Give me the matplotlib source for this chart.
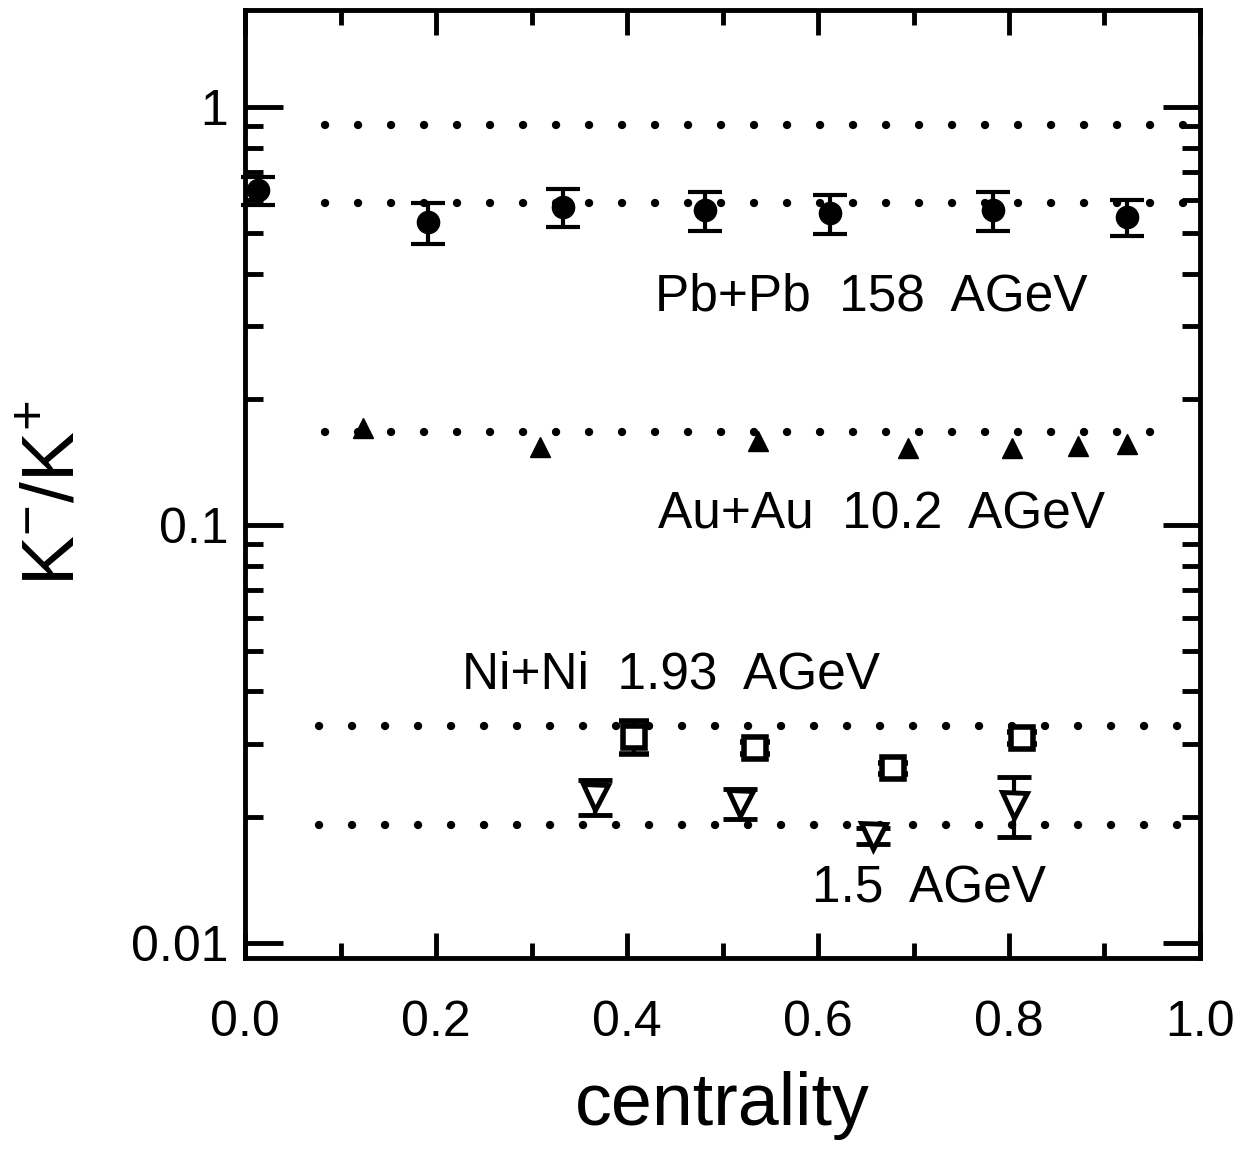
import matplotlib
matplotlib.use('Agg')
import matplotlib.pyplot as plt
from matplotlib.ticker import MultipleLocator, LogLocator, FixedLocator, NullFormatter

plt.rcParams['font.family'] = ['Liberation Sans', 'DejaVu Sans']
plt.rcParams['mathtext.fontset'] = 'custom'
plt.rcParams['mathtext.rm'] = 'Liberation Sans'

# Pb+Pb 158 AGeV (filled circles)
pb_x = [0.014, 0.192, 0.333, 0.482, 0.613, 0.783, 0.924]
pb_y = [0.633, 0.531, 0.576, 0.567, 0.558, 0.567, 0.546]
pb_err = [0.05, 0.06, 0.06, 0.06, 0.06, 0.06, 0.055]

# Au+Au 10.2 AGeV (filled triangles)
au_x = [0.124, 0.309, 0.537, 0.694, 0.803, 0.872, 0.924]
au_y = [0.171, 0.154, 0.159, 0.153, 0.153, 0.155, 0.156]

# Ni+Ni 1.93 AGeV (open squares)
ni193_x = [0.407, 0.534, 0.679, 0.814]
ni193_y = [0.0311, 0.0293, 0.0262, 0.0309]
ni193_err = [0.0028, 0.0010, 0.0008, 0.0010]

# Ni+Ni 1.5 AGeV (open down triangles)
ni15_x = [0.366, 0.518, 0.658, 0.805]
ni15_y = [0.0224, 0.0216, 0.0180, 0.0214]
ni15_err = [0.0022, 0.0018, 0.0008, 0.0035]

# dotted reference levels: (level, x start, x end)
ref_levels = [0.906, 0.589, 0.167, 0.033, 0.0191]
ref_start = [0.084, 0.084, 0.084, 0.077, 0.077]
ref_end = [0.995, 0.995, 0.965, 0.998, 0.998]

labels = ['Pb+Pb  158  AGeV', 'Au+Au  10.2  AGeV', 'Ni+Ni  1.93  AGeV', '1.5  AGeV']
label_x = [0.429, 0.432, 0.227, 0.594]
label_y = [0.351, 0.106, 0.0438, 0.01346]

fig = plt.figure(figsize=(12.47, 11.51), dpi=100)
ax = fig.add_axes([0.1965, 0.1677, 0.7658, 0.8236])
ax.set_yscale('log')
ax.set_xlim(0, 1.0)
ax.set_ylim(0.0092, 1.71)

for lev, x0, x1 in zip(ref_levels, ref_start, ref_end):
    ax.plot([x0, x1], [lev, lev], color='black', lw=6,
            linestyle=(0, (0.01, 3.95)), dash_capstyle='round', zorder=1)

ax.errorbar(pb_x, pb_y, yerr=pb_err, fmt='o', color='black', ms=16,
            elinewidth=3, capsize=12, capthick=3, clip_on=False, zorder=3)
ax.plot(au_x, au_y, '^', color='black', ms=15, zorder=3)
ax.errorbar(ni193_x, ni193_y, yerr=ni193_err, fmt='s', color='black',
            mfc='white', ms=16, mew=4, elinewidth=3, capsize=11, capthick=3, zorder=3)
ax.errorbar(ni15_x, ni15_y, yerr=ni15_err, fmt='v', color='black',
            mfc='white', ms=18, mew=3.5, elinewidth=3, capsize=12, capthick=3, zorder=3)

for t, tx, ty in zip(labels, label_x, label_y):
    ax.text(tx, ty, t, fontsize=37, va='center', ha='left')

ax.xaxis.set_minor_locator(MultipleLocator(0.1))
ax.set_xticks([0.0, 0.2, 0.4, 0.6, 0.8, 1.0])
ax.set_xticklabels(['0.0', '0.2', '0.4', '0.6', '0.8', '1.0'])
ax.yaxis.set_major_locator(FixedLocator([0.01, 0.1, 1]))
ax.set_yticklabels(['0.01', '0.1', '1'])
ax.yaxis.set_minor_locator(LogLocator(base=10, subs=range(2, 10)))
ax.yaxis.set_minor_formatter(NullFormatter())

ax.tick_params(axis='both', which='both', direction='in', top=True, right=True,
               width=3.5, labelsize=36)
ax.tick_params(axis='x', which='major', length=18, pad=30)
ax.tick_params(axis='x', which='minor', length=11)
ax.tick_params(axis='y', which='major', length=27, pad=12)
ax.tick_params(axis='y', which='minor', length=13)
for s in ax.spines.values():
    s.set_linewidth(3.5)

ax.set_xlabel('centrality', fontsize=53, labelpad=18)
ax.set_ylabel(r'K$^{-}$/K$^{+}$', fontsize=54)
ax.yaxis.set_label_coords(-0.163, 0.49)

fig.savefig('out.png', dpi=100)
